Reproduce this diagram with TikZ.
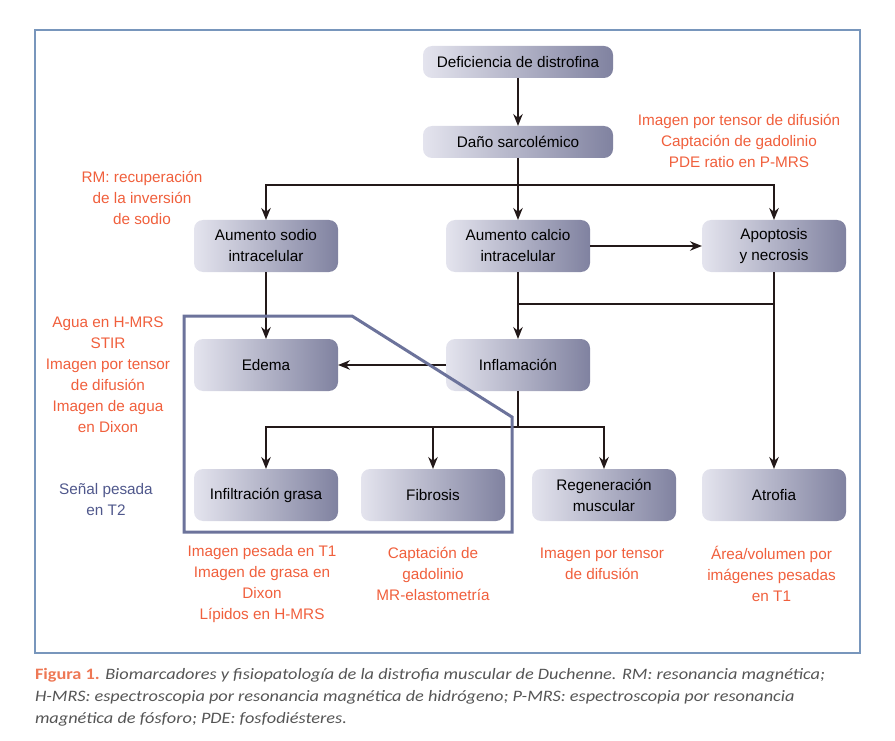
\documentclass[tikz,border=0pt]{standalone}
\usepackage{fontspec}
\setmainfont{Liberation Sans}
\newfontfamily\capfont{Carlito}[FakeStretch=1.15]
\usetikzlibrary{arrows.meta}
\definecolor{boxL}{RGB}{228,228,238}
\definecolor{boxR}{RGB}{128,130,160}
\definecolor{orangeT}{RGB}{240,95,60}
\definecolor{slateT}{RGB}{80,88,140}
\definecolor{grayFrame}{RGB}{108,115,155}
\definecolor{outerFrame}{RGB}{120,150,188}
\definecolor{lineC}{RGB}{35,25,25}
\definecolor{capGray}{RGB}{85,85,85}
\definecolor{capOrange}{RGB}{238,120,85}
\begin{document}
\begin{tikzpicture}[x=1pt,y=-1pt,
  every node/.style={inner sep=0pt, outer sep=0pt},
  fbox/.style={rounded corners=9pt, minimum width=144pt, minimum height=52pt,
    left color=boxL, right color=boxR, align=center,
    font=\fontsize{15.3}{21}\selectfont},
  wbox/.style={fbox, minimum width=190pt, minimum height=32pt},
  lbl/.style={align=center, text=orangeT, font=\fontsize{15.3}{21}\selectfont},
  slbl/.style={lbl, text=slateT},
  conn/.style={draw=lineC, line width=1.8pt},
  arr/.style={conn, -{Stealth[length=12pt,width=9.5pt]}},
]
\useasboundingbox (0,0) rectangle (895,741);
\draw[outerFrame, line width=2.5pt] (35,30) rectangle (860,653);

% nodes
\node[wbox] (def) at (518,62) {Deficiencia de distrofina};
\node[wbox] (dano) at (518,142) {Daño sarcolémico};
\node[fbox] (sodio) at (266,246) {Aumento sodio\\intracelular};
\node[fbox] (calcio) at (518,246) {Aumento calcio\\intracelular};
\node[fbox] (apop) at (774,246) {Apoptosis\\y necrosis};
\node[fbox] (edema) at (266,365) {Edema};
\node[fbox] (infl) at (518,365) {Inflamación};
\node[fbox] (infil) at (266,495) {Infiltración grasa};
\node[fbox] (fib) at (433,495) {Fibrosis};
\node[fbox] (regen) at (604,495) {Regeneración\\muscular};
\node[fbox] (atro) at (774,495) {Atrofia};

% connectors
\coordinate (bus1) at (518,185);
\coordinate (bus2) at (518,304);
\coordinate (bus3) at (518,427);
\draw[arr] (def) -- (dano);
\draw[conn] (dano) -- (bus1);
\draw[arr] (bus1) -| (sodio);
\draw[arr] (bus1) -- (calcio);
\draw[arr] (bus1) -| (apop);
\draw[arr] (calcio) -- (apop);
\draw[arr] (calcio) -- (infl);
\draw[conn] (bus2) -- (apop.south |- bus2);
\draw[arr] (apop) -- (atro);
\draw[arr] (sodio) -- (edema);
\draw[arr] (infl) -- (edema);
\draw[conn] (infl) -- (bus3);
\draw[arr] (bus3) -| (infil);
\draw[arr] (bus3) -| (regen);
\draw[arr] (fib |- bus3) -- (fib);

% grey group frame
\draw[grayFrame, line width=3pt, line join=miter] (184,316) -- (352,316) -- (512,417) -- (512,532) -- (184,532) -- cycle;

% labels
\node[lbl] (l1) at (739,141) {Imagen por tensor de difusión\\Captación de gadolinio\\PDE ratio en P-MRS};
\node[lbl] (l2) at (142,197.5) {RM: recuperación\\de la inversión\\de sodio};
\node[lbl] (l3) at (108,374.5) {Agua en H-MRS\\STIR\\Imagen por tensor\\de difusión\\Imagen de agua\\en Dixon};
\node[slbl] (l4) at (106,499.5) {Señal pesada\\en T2};
\node[lbl] (l5) at (262,584.5) {Imagen pesada en T1\\Imagen de grasa en\\Dixon\\Lípidos en H-MRS};
\node[lbl] (l6) at (433,574) {Captación de\\gadolinio\\MR-elastometría};
\node[lbl] (l7) at (602,563.5) {Imagen por tensor\\de difusión};
\node[lbl] (l8) at (771.5,574) {Área/volumen por\\imágenes pesadas\\en T1};

% caption
\node[anchor=north west, align=left, text=capGray, font=\capfont\fontsize{15.9}{22}\selectfont] (cap) at (35,668)
{{\bfseries\color{capOrange}Figura 1.} \itshape Biomarcadores y fisiopatología de la distrofia muscular de Duchenne. RM: resonancia magnética;\\
\itshape H-MRS: espectroscopia por resonancia magnética de hidrógeno; P-MRS: espectroscopia por resonancia\\
\itshape magnética de fósforo; PDE: fosfodiésteres.};
\end{tikzpicture}
\end{document}
